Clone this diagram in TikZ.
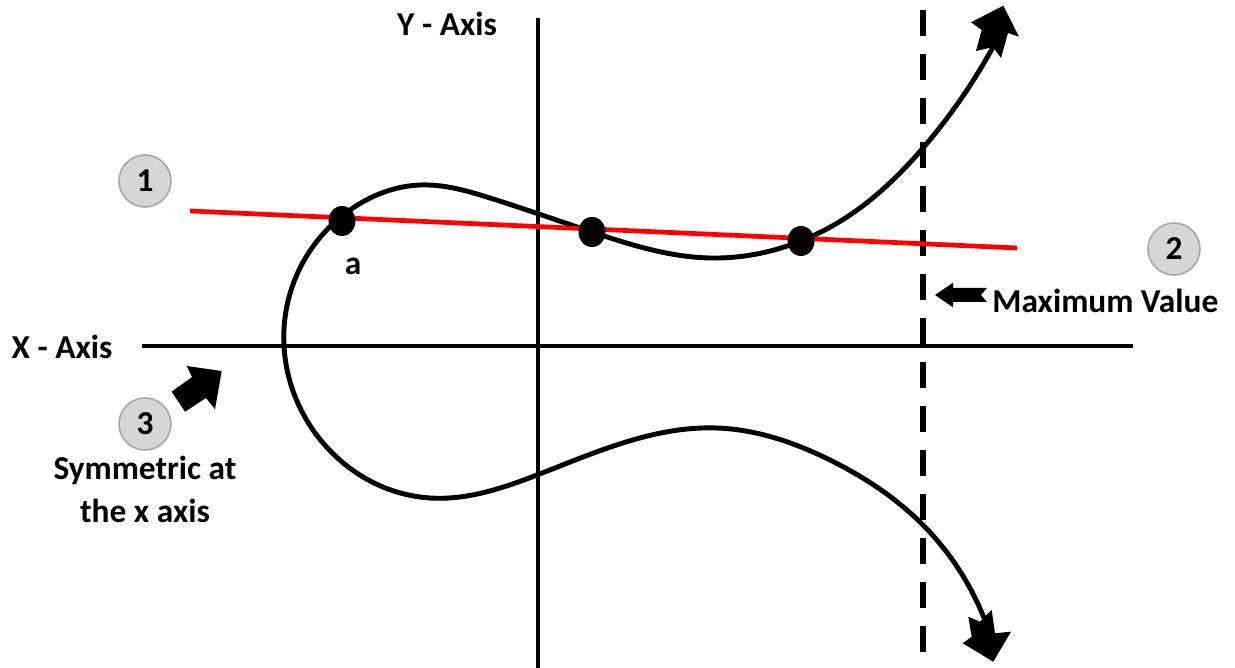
\documentclass[tikz,border=0pt]{standalone}
\usepackage{fontspec}
\setmainfont{Carlito}
\usetikzlibrary{shapes.geometric,hobby}
\begin{document}
\begin{tikzpicture}[x=0.02cm,y=-0.02cm,
  lbl/.style={font=\fontsize{19}{23}\selectfont\bfseries, inner sep=0pt},
  num/.style={circle, draw=black!35, fill=black!16, line width=0.9pt, minimum size=1.04cm, inner sep=0pt, font=\fontsize{19}{23}\selectfont\bfseries},
  axisline/.style={line width=2.3pt},
  curveline/.style={line width=2.8pt, line join=round},
  redline/.style={red, line width=2.7pt},
  dashline/.style={line width=3.2pt, dash pattern=on 0.52cm off 0.36cm},
  dotnode/.style={ellipse, fill=black, minimum width=0.54cm, minimum height=0.6cm, inner sep=0pt},
  blockarrow/.style={fill=black}]
\useasboundingbox (0,0) rectangle (1235,668);
% axes
\coordinate (ytop) at (538,18);
\coordinate (ybot) at (538,668);
\coordinate (xl) at (142,346);
\coordinate (xr) at (1133,346);
\coordinate (dtop) at (923,10);
\coordinate (dbot) at (923,668);
\draw[axisline] (ytop) -- (ybot);
\draw[axisline] (xl) -- (xr);
\draw[dashline] (dtop) -- (dbot);
% curve
\draw[curveline, use Hobby shortcut] (993,47) .. (923,148) .. (850,215) .. (801,241) .. (710,258)
 .. (592,232) .. (490,198) .. (420,185) .. (350,210) .. (300,268) .. (284,346) .. (313,430)
 .. (430,498) .. (537,475) .. (717,428) .. (830,460) .. (923,525) .. (984,618);
% curve arrowheads
\fill[blockarrow] (1003.3,5.7) -- (1019,36.7) -- (1008,33) -- (1001,58) -- (993,47) -- (976,51) -- (981.7,30) -- (971,22.3) -- cycle;
\fill[blockarrow] (993.3,661.7) -- (962.7,643.3) -- (971.7,636.7) -- (968.3,616.7) -- (980,621.7) -- (991.7,610) -- (995,633.3) -- (1011,631.7) -- cycle;
% red secant
\coordinate (r1) at (190,211);
\coordinate (r2) at (1017,248);
\draw[redline] (r1) -- (r2);
% points
\node[dotnode] (p1) at (342,221) {};
\node[dotnode] (p2) at (592,232) {};
\node[dotnode] (p3) at (801,241) {};
% labels
\node[lbl] (ylab) at (447,24) {Y - Axis};
\node[lbl] (xlab) at (62,347) {X - Axis};
\node[lbl] (alab) at (353,266) {a};
\node[lbl, anchor=west] (maxlab) at (992,301) {Maximum Value};
\node[lbl] (sym1) at (145,470) {Symmetric at};
\node[lbl] (sym2) at (145,511) {the x axis};
% numbered circles
\node[num] (n1) at (145,181) {1};
\node[num] (n2) at (1174,249) {2};
\node[num] (n3) at (145,424) {3};
% block arrows
\fill[blockarrow] (935,295) -- (953,282.7) -- (953,288) -- (987,288) -- (981,295) -- (987,302) -- (953,302) -- (953,307.3) -- cycle;
\fill[blockarrow] (221.7,371) -- (215,409.3) -- (206,398) -- (185,411.7) -- (171.7,391.7) -- (192,377) -- (186.7,366) -- cycle;
\end{tikzpicture}
\end{document}
